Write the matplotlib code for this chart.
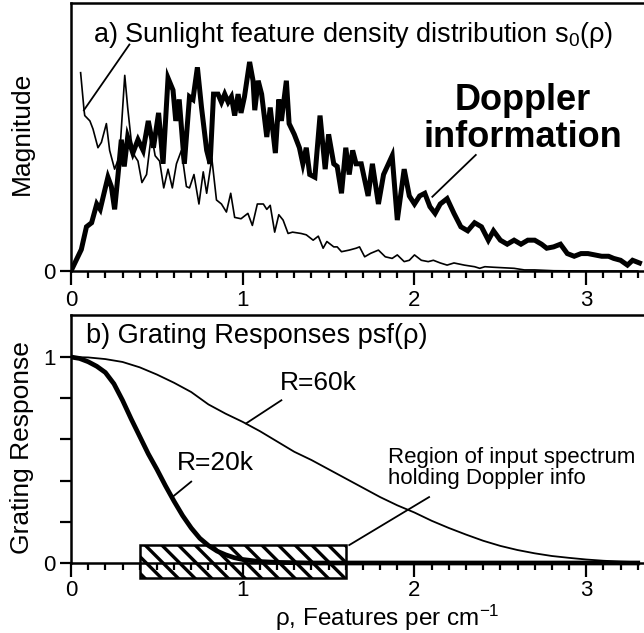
import matplotlib
matplotlib.use('Agg')
import matplotlib.pyplot as plt
from matplotlib.ticker import MultipleLocator, FixedLocator, FixedFormatter
from matplotlib.patches import Rectangle

plt.rcParams['font.family'] = ['Liberation Sans', 'DejaVu Sans']
plt.rcParams['mathtext.fontset'] = 'custom'
plt.rcParams['mathtext.rm'] = 'Liberation Sans'
plt.rcParams['mathtext.it'] = 'Liberation Sans:italic'
plt.rcParams['hatch.linewidth'] = 2.4

# panel a: Doppler information (thick) and sunlight feature density (thin)
doppler_x = [0.00, 0.03, 0.06, 0.09, 0.12, 0.15, 0.17, 0.196, 0.215, 0.235, 0.254, 0.274, 0.293,
             0.31, 0.33, 0.36, 0.39, 0.42, 0.45, 0.48, 0.51, 0.536, 0.565, 0.594, 0.61, 0.63,
             0.66, 0.69, 0.71, 0.736, 0.76, 0.79, 0.81, 0.83, 0.856, 0.876, 0.895, 0.915,
             0.934, 0.953, 0.973, 0.99, 1.01, 1.04, 1.06, 1.07, 1.09, 1.11, 1.14, 1.16, 1.19,
             1.21, 1.225, 1.254, 1.27, 1.30, 1.33, 1.35, 1.37, 1.39, 1.42, 1.45, 1.48, 1.50,
             1.53, 1.55, 1.575, 1.60, 1.62, 1.64, 1.66, 1.69, 1.73, 1.755, 1.79, 1.82, 1.87,
             1.90, 1.94, 1.97, 2.00, 2.03, 2.06, 2.09, 2.12, 2.15, 2.19, 2.23, 2.27, 2.31,
             2.35, 2.39, 2.43, 2.46, 2.50, 2.54, 2.58, 2.62, 2.66, 2.70, 2.74, 2.77, 2.81,
             2.85, 2.89, 2.93, 2.97, 3.01, 3.05, 3.09, 3.13, 3.16, 3.20, 3.24, 3.27, 3.31]
doppler_y = [0.00, 0.04, 0.08, 0.165, 0.18, 0.25, 0.23, 0.30, 0.35, 0.315, 0.23, 0.36, 0.49,
             0.39, 0.50, 0.44, 0.49, 0.45, 0.56, 0.46, 0.59, 0.40, 0.72, 0.675, 0.56, 0.64,
             0.40, 0.65, 0.64, 0.76, 0.61, 0.45, 0.40, 0.66, 0.66, 0.63, 0.66, 0.63,
             0.65, 0.58, 0.66, 0.59, 0.65, 0.78, 0.71, 0.60, 0.71, 0.66, 0.50, 0.61, 0.44,
             0.64, 0.56, 0.71, 0.55, 0.51, 0.46, 0.40, 0.46, 0.36, 0.35, 0.58, 0.38, 0.51,
             0.40, 0.39, 0.29, 0.46, 0.36, 0.45, 0.40, 0.40, 0.28, 0.40, 0.25, 0.36, 0.43,
             0.19, 0.38, 0.28, 0.25, 0.28, 0.29, 0.24, 0.215, 0.25, 0.27, 0.215, 0.165, 0.15,
             0.18, 0.165, 0.115, 0.15, 0.115, 0.10, 0.115, 0.10, 0.115, 0.115, 0.10, 0.085, 0.09,
             0.10, 0.065, 0.055, 0.065, 0.065, 0.06, 0.055, 0.055, 0.047, 0.04, 0.022, 0.04, 0.03]

sun_x = [0.056, 0.076, 0.08, 0.11, 0.128, 0.157, 0.177, 0.206, 0.225, 0.254, 0.283, 0.313,
         0.33, 0.35, 0.37, 0.39, 0.413, 0.44, 0.468, 0.49, 0.516, 0.54, 0.565, 0.59, 0.614,
         0.643, 0.672, 0.69, 0.716, 0.745, 0.77, 0.79, 0.82, 0.847, 0.876, 0.905, 0.93,
         0.953, 0.99, 1.03, 1.056, 1.085, 1.12, 1.14, 1.16, 1.186, 1.21, 1.235, 1.264, 1.29,
         1.34, 1.37, 1.41, 1.44, 1.468, 1.49, 1.53, 1.55, 1.575, 1.62, 1.66, 1.68, 1.71,
         1.745, 1.79, 1.83, 1.87, 1.90, 1.94, 1.97, 2.00, 2.04, 2.08, 2.11, 2.15, 2.19,
         2.23, 2.29, 2.35, 2.38, 2.41, 2.46, 2.52, 2.58, 2.64, 2.70, 2.81, 3.01, 3.30]
sun_y = [0.74, 0.60, 0.58, 0.56, 0.53, 0.46, 0.48, 0.55, 0.45, 0.38, 0.43, 0.73,
         0.61, 0.49, 0.43, 0.41, 0.33, 0.36, 0.51, 0.43, 0.41, 0.31, 0.38, 0.31, 0.40,
         0.45, 0.315, 0.31, 0.36, 0.25, 0.37, 0.29, 0.42, 0.265, 0.25, 0.22, 0.29,
         0.20, 0.195, 0.215, 0.17, 0.25, 0.25, 0.23, 0.245, 0.145, 0.21, 0.19, 0.14, 0.145,
         0.14, 0.135, 0.115, 0.13, 0.085, 0.11, 0.09, 0.09, 0.072, 0.078, 0.085, 0.09, 0.053,
         0.066, 0.078, 0.053, 0.047, 0.06, 0.035, 0.04, 0.06, 0.04, 0.035, 0.04, 0.03, 0.022,
         0.03, 0.022, 0.016, 0.01, 0.016, 0.014, 0.012, 0.01, 0.004, 0.004, 0.001, 0.0, 0.0]

# panel b: grating responses
r20_x = [0.0, 0.05, 0.1, 0.15, 0.2, 0.25, 0.3, 0.35, 0.4, 0.45, 0.5, 0.55, 0.6, 0.65, 0.7,
         0.75, 0.8, 0.85, 0.9, 0.95, 1.0, 1.1, 1.2, 1.4, 3.3]
r20_y = [1.0, 0.993, 0.977, 0.955, 0.925, 0.87, 0.79, 0.70, 0.615, 0.53, 0.455, 0.375, 0.30,
         0.23, 0.17, 0.12, 0.085, 0.058, 0.04, 0.026, 0.017, 0.007, 0.003, 0.0, 0.0]

r60_x = [0.0, 0.1, 0.2, 0.3, 0.4, 0.5, 0.6, 0.7, 0.8, 0.9, 1.0, 1.1, 1.2, 1.3, 1.4, 1.5, 1.6,
         1.7, 1.8, 1.9, 2.0, 2.1, 2.2, 2.3, 2.4, 2.5, 2.6, 2.7, 2.8, 2.9, 3.0, 3.1, 3.2, 3.3]
r60_y = [1.0, 0.998, 0.99, 0.976, 0.95, 0.915, 0.875, 0.83, 0.77, 0.725, 0.685, 0.64, 0.59,
         0.54, 0.50, 0.455, 0.41, 0.365, 0.32, 0.28, 0.245, 0.205, 0.17, 0.138, 0.108, 0.083,
         0.063, 0.047, 0.034, 0.025, 0.017, 0.011, 0.007, 0.004]

region_x = [0.4, 1.6]
region_y = [-0.075, 0.088]

x_ticks = [0, 1, 2, 3]
x_ticklabels = ['0', '1', '2', '3']


def style_xaxis(ax, pad=4):
    ax.set_xlim(0, 3.68)
    ax.xaxis.set_major_locator(FixedLocator(x_ticks))
    ax.xaxis.set_major_formatter(FixedFormatter(x_ticklabels))
    ax.xaxis.set_minor_locator(MultipleLocator(0.1))
    ax.tick_params(axis='x', which='major', direction='out', length=10, width=1.6,
                   labelsize=16, pad=pad)
    ax.tick_params(axis='x', which='minor', direction='out', length=5, width=1.6)
    ax.tick_params(axis='y', direction='out', length=8, width=1.6, labelsize=16, pad=3)
    ax.spines['right'].set_visible(False)
    for s in ['left', 'top', 'bottom']:
        ax.spines[s].set_linewidth(1.8)


def plot_chart():
    fig = plt.figure(figsize=(6.44, 6.33), dpi=100)

    # ---- top panel
    ax1 = fig.add_axes([71 / 644, 1 - 271 / 633, 632 / 644, 268 / 633])
    style_xaxis(ax1)
    ax1.set_ylim(0, 1)
    ax1.set_yticks([0])
    ax1.set_yticklabels(['0'])
    ax1.plot(sun_x, sun_y, color='black', lw=1.2)
    ax1.plot(doppler_x, doppler_y, color='black', lw=3.6, solid_joinstyle='miter')
    ax1.set_ylabel('Magnitude', fontsize=19)
    ax1.yaxis.set_label_coords(-0.058, 0.515)
    ax1.text(0.128, 0.855, 'a) Sunlight feature density distribution s$_0$(ρ)',
             fontsize=19.5, va='baseline')
    ax1.plot([0.075, 0.34], [0.60, 0.845], color='black', lw=1.3)
    ax1.text(2.63, 0.60, 'Doppler', fontsize=26, fontweight='bold', ha='center', va='baseline')
    ax1.text(2.63, 0.463, 'information', fontsize=26, fontweight='bold', ha='center',
             va='baseline')
    ax1.plot([2.104, 2.357], [0.277, 0.433], color='black', lw=1.3)

    # ---- bottom panel
    ax2 = fig.add_axes([71 / 644, 1 - 583.6 / 633, 632 / 644, 268.6 / 633])
    style_xaxis(ax2, pad=2)
    ax2.set_ylim(-0.1, 1.204)
    ax2.spines['bottom'].set_position(('data', 0))
    ax2.spines['left'].set_bounds(0, 1.204)
    ax2.set_yticks([0, 0.2, 0.4, 0.6, 0.8, 1.0])
    ax2.set_yticklabels(['0', '', '', '', '', '1'])

    ax2.add_patch(Rectangle((region_x[0], region_y[0]), region_x[1] - region_x[0],
                            region_y[1] - region_y[0], facecolor='white',
                            edgecolor='black', lw=1.8, hatch='\\\\', zorder=1.5))
    ax2.plot(r60_x, r60_y, color='black', lw=1.3, zorder=3)
    ax2.plot(r20_x, r20_y, color='black', lw=3.4, zorder=3)

    ax2.set_ylabel('Grating Response', fontsize=19)
    ax2.yaxis.set_label_coords(-0.058, 0.505)
    ax2.set_xlabel('ρ, Features per cm$^{-1}$', fontsize=17.5)
    ax2.xaxis.set_label_coords(0.5, -0.07)

    ax2.text(0.088, 1.068, 'b) Grating Responses psf(ρ)', fontsize=19.5, va='baseline')
    ax2.text(1.215, 0.84, 'R=60k', fontsize=19, va='baseline')
    ax2.plot([1.02, 1.225], [0.678, 0.79], color='black', lw=1.3)
    ax2.text(0.615, 0.451, 'R=20k', fontsize=19, va='baseline')
    ax2.plot([0.59, 0.70], [0.32, 0.395], color='black', lw=1.3)
    ax2.text(1.846, 0.565, 'Region of input spectrum\nholding Doppler info', fontsize=16,
             va='top', linespacing=1.0)
    ax2.plot([1.62, 2.085], [0.087, 0.32], color='black', lw=1.3)

    plt.savefig('out.png', dpi=100)


if __name__ == "__main__":
    plot_chart()
